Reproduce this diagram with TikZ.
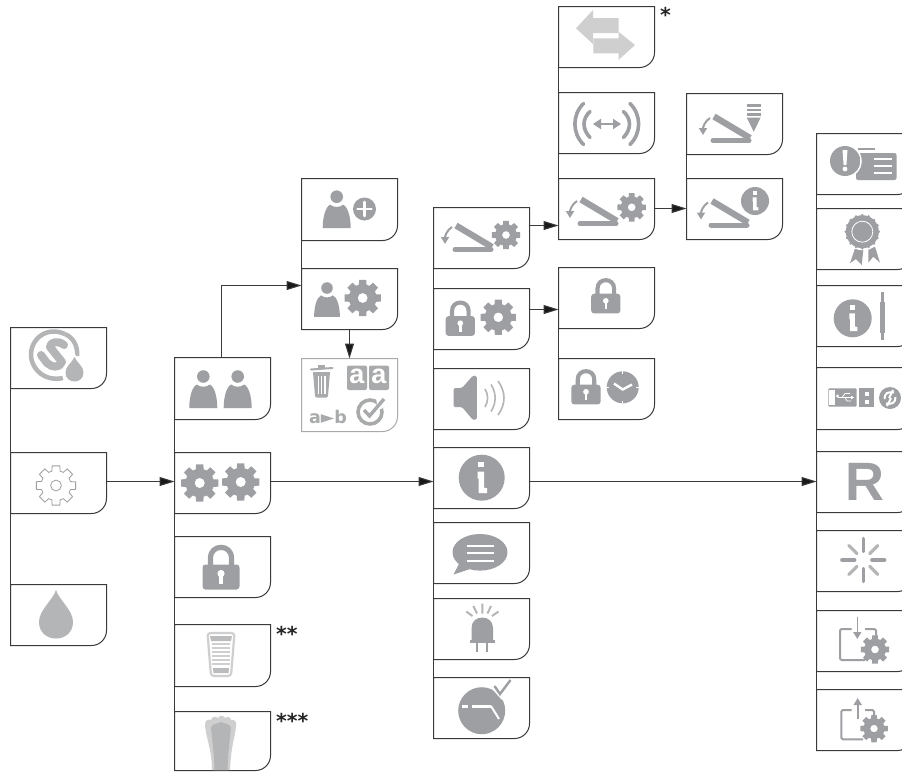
\documentclass[tikz,border=0pt]{standalone}
\usepackage{fontspec}
\setmainfont{Liberation Sans}
\newfontfamily\djfont{DejaVu Sans}
\usetikzlibrary{arrows.meta}
\definecolor{ic}{HTML}{9D9FA2}
\definecolor{icl}{HTML}{B4B5B6}
\definecolor{ice}{HTML}{CFCFD0}
\definecolor{ln}{HTML}{3A3A3C}
\definecolor{lg}{HTML}{A9AAAB}
\tikzset{
  boxnode/.style={inner sep=0pt,outer sep=0pt,minimum width=96pt},
  boxline/.style={draw=ln,line width=1pt},
  link/.style={draw=ln,line width=1pt},
  arrowlink/.style={link,-{Triangle[length=15pt,width=9pt,fill=black!90]}},
  star/.style={font=\djfont\bfseries\fontsize{20.5}{20.5}\selectfont,inner sep=0pt,anchor=north west,text=black!85}
}
% box: name, left, top, bottom, draw style
\newcommand\bx[5][boxline]{%
  \node[boxnode,minimum height={(#5-#4)*1pt}] (#2) at ({#3+48.5},{(#4+#5)/2+.5}) {};
  \draw[#1] (#2.north west) -- (#2.north east) [rounded corners=15pt] -- (#2.south east) [sharp corners] -- (#2.south west) -- cycle;
}
% gear: cx, cy, R, style
\newcommand\gear[4]{%
  \path[shift={(#1,#2)},scale=#3,even odd rule,#4]
    (-15:.75) \foreach \a in {0,45,...,315}{ -- (\a-11:1) -- (\a+11:1) -- (\a+16:.75) -- (\a+29:.75)} -- cycle
    (0,0) circle (.27);
}
% person: cx, head cy, scale
\newcommand\person[3]{%
  \begin{scope}[shift={(#1,#2)},scale=#3]
    \fill[ic] (0,0) circle (6.3);
    \fill[ic] (-14,31.5) .. controls (-14,20) and (-11,10) .. (-6.5,8) .. controls (-3,11) and (3,11) .. (6.5,8) .. controls (11,10) and (14,20) .. (14,31.5) -- cycle;
  \end{scope}}
% lock: cx, top, scale
\newcommand\lockicon[3]{%
  \begin{scope}[shift={(#1,#2)},scale=#3]
    \draw[draw=ic,line width=#3*5.2pt] (-10.5,20) -- (-10.5,13) .. controls (-10.5,-1.2) and (10.5,-1.2) .. (10.5,13) -- (10.5,20);
    \fill[ic,rounded corners=3pt] (-18.5,19.5) rectangle (18.5,44.5);
    \fill[white] (0,28.5) circle (3.6);
    \fill[white] (-1.6,29) rectangle (1.6,39);
  \end{scope}}
% tilt: vertex x,y
\newcommand\tilt[2]{%
  \begin{scope}[shift={(#1,#2)}]
    \draw[ic,line width=6.3pt] (-36,-22.5) -- (0,-1);
    \draw[ic,line width=5pt,line cap=round] (-37,1.5) -- (-1,1.5);
    \draw[ic,line width=2pt,-{Triangle[length=7pt,width=8pt]}] (-40,-21) .. controls (-45,-18) and (-47,-12) .. (-47,-4);
  \end{scope}}
% info: cx, cy, r
\newcommand\infoicon[3]{%
  \begin{scope}[shift={(#1,#2)},scale=#3/23]
    \fill[ic] (0,0) circle (23);
    \fill[white] (-3.5,-16) rectangle (2.5,-10.5);
    \fill[white] (-4,-6) -- (2.5,-6) -- (2.5,10) -- (5.5,10.5) -- (5.5,15.5) -- (-3,15.5) -- (-3,1) -- (-4,1) -- cycle;
  \end{scope}}
\begin{document}
\begin{tikzpicture}[x=1pt,y=-1pt]
\useasboundingbox (0,0) rectangle (902,772);
\clip (0,0) rectangle (902,772);
\fill[white] (0,0) rectangle (902,772);

% ---------- boxes ----------
\bx{logo}{10}{327}{388}
\bx{cfg}{10}{452}{513}
\bx{drop}{10}{584}{645}

\bx{users}{174}{357}{419}
\bx{sys}{174}{452}{513}
\bx{lock}{174}{536}{597}
\bx{filt}{174}{624}{686}
\bx{brush}{174}{711}{770}

\bx{uadd}{301}{178}{240}
\bx{ucfg}{301}{268}{329}
\bx[draw=lg,line width=1pt]{uopts}{301}{358}{431}

\bx{tiltc}{433}{207}{268}
\bx{lockc}{433}{288}{349}
\bx{sound}{433}{368}{429}
\bx{info}{433}{447}{508}
\bx{msg}{433}{522}{583}
\bx{led}{433}{598}{659}
\bx{sens}{433}{677}{738}

\bx{swap}{558}{6}{67}
\bx{wifi}{558}{92}{153}
\bx{tiltd}{558}{178}{239}
\bx{locka}{558}{267}{328}
\bx{lockt}{558}{358}{419}

\bx{tiltp}{686}{93}{154}
\bx{tilti}{686}{178}{239}

\bx{alert}{816}{133}{194}
\bx{cert}{816}{208}{269}
\bx{ijack}{816}{285}{346}
\bx{usb}{816}{367}{429}
\bx{reset}{816}{451}{512}
\bx{burst}{816}{530}{591}
\bx{imp}{816}{610}{671}
\bx{exp}{816}{689}{750}

% ---------- connectors ----------
\draw[link] (logo.south west) -- (cfg.north west);
\draw[link] (cfg.south west) -- (drop.north west);
\draw[link] (users.south west) -- (sys.north west);
\draw[link] (sys.south west) -- (lock.north west);
\draw[link] (lock.south west) -- (filt.north west);
\draw[link] (filt.south west) -- (brush.north west);
\draw[link] (uadd.south west) -- (ucfg.north west);
\draw[link] (tiltc.south west) -- (lockc.north west);
\draw[link] (lockc.south west) -- (sound.north west);
\draw[link] (sound.south west) -- (info.north west);
\draw[link] (info.south west) -- (msg.north west);
\draw[link] (msg.south west) -- (led.north west);
\draw[link] (led.south west) -- (sens.north west);
\draw[link] (swap.south west) -- (wifi.north west);
\draw[link] (wifi.south west) -- (tiltd.north west);
\draw[link] (locka.south west) -- (lockt.north west);
\draw[link] (tiltp.south west) -- (tilti.north west);
\draw[link] (alert.south west) -- (cert.north west);
\draw[link] (cert.south west) -- (ijack.north west);
\draw[link] (ijack.south west) -- (usb.north west);
\draw[link] (usb.south west) -- (reset.north west);
\draw[link] (reset.south west) -- (burst.north west);
\draw[link] (burst.south west) -- (imp.north west);
\draw[link] (imp.south west) -- (exp.north west);

\draw[arrowlink] ([yshift=1.5pt]cfg.east) -- ([yshift=1.5pt]sys.west);
\draw[arrowlink] ([yshift=1.5pt]sys.east) -- ([yshift=-3.5pt]info.west);
\draw[arrowlink] ([yshift=-3.5pt]info.east) -- ([yshift=.5pt]reset.west);
\draw[arrowlink] ([xshift=-1pt]users.north) |- ([yshift=13.5pt]ucfg.west);
\draw[arrowlink] (ucfg.south) -- (uopts.north);
\draw[arrowlink] ([yshift=12.5pt]tiltc.east) -- ([yshift=-16.5pt]tiltd.west);
\draw[arrowlink] ([yshift=9.5pt]lockc.east) -- ([yshift=-11.5pt]locka.west);
\draw[arrowlink] ([yshift=.5pt]tiltd.east) -- ([yshift=.5pt]tilti.west);

% ---------- stars ----------
\node[star] (st1) at (660,7.5) {*};
\node[star] (st2) at (276,626) {**};
\node[star] (st3) at (276,713) {***};

% ---------- icons, column 1 ----------
\begin{scope}
  \draw[icl,line width=4.5pt] (65,334) .. controls (42,324) and (25,346) .. (33,364) .. controls (38,375) and (50,381) .. (63,378);
  \draw[icl,line width=4.5pt] (65,334) .. controls (74,338) and (78,347) .. (77,356);
  \draw[icl,line width=8pt,line cap=round,line join=round] (64,345) .. controls (58,340) and (50,342) .. (50,347) -- (62,362) .. controls (60,368) and (52,368) .. (47,363) -- (41,355);
  \fill[white] (74.5,353) .. controls (72,360) and (62,364) .. (62,373) .. controls (62,388) and (87,388) .. (87,373) .. controls (87,364) and (77,360) .. (74.5,353) -- cycle;
  \fill[icl] (74.5,357) .. controls (72,363) and (65.5,366) .. (65.5,372.5) .. controls (65.5,384.5) and (83.5,384.5) .. (83.5,372.5) .. controls (83.5,366) and (77,363) .. (74.5,357) -- cycle;
\end{scope}
\gear{56}{485.5}{20}{draw=ic,line width=.8pt,fill=white}
\fill[icl] (56,590) .. controls (53,600) and (39,610) .. (39,622) .. controls (39,644) and (73,644) .. (73,622) .. controls (73,610) and (59,600) .. (56,590) -- cycle;

% ---------- column 2 ----------
\person{203.3}{376.5}{1}
\person{237.7}{376.5}{1}
\gear{199.7}{483}{19}{fill=ic}
\gear{240.7}{482}{19}{fill=ic}
\lockicon{221}{545}{1}
% filter
\begin{scope}
  \draw[ice,line width=2.2pt,rounded corners=3pt] (207.5,633) -- (234.5,633) -- (231,676) -- (211,676) -- cycle;
  \fill[icl!90] (210,636) -- (232,636) -- (231,641) -- (211,641) -- cycle;
  \fill[icl!90] (213,668) -- (229,668) -- (228.5,673) -- (213.5,673) -- cycle;
  \foreach \yy in {644,648,652,656,660,664} \draw[ice,line width=1.6pt] (212,\yy) -- (230,\yy);
\end{scope}
% brush
\begin{scope}
  \fill[ice] (205,725) .. controls (205,720) and (208,719) .. (211,720) .. controls (212,716) and (216,716) .. (218,718) .. controls (220,715) and (223,715) .. (225,718) .. controls (227,716) and (231,717) .. (231,720) .. controls (234,719) and (237,721) .. (236,726) .. controls (235,738) and (231,745) .. (230,770) -- (212,770) .. controls (212,750) and (206,738) .. (205,725) -- cycle;
  \fill[icl] (211,727) .. controls (214,723) and (218,724) .. (221,722) .. controls (225,724) and (228,723) .. (231,727) .. controls (230,740) and (228,750) .. (227.5,770) -- (214.5,770) .. controls (214,750) and (212,740) .. (211,727) -- cycle;
\end{scope}

% ---------- user sub-column ----------
\person{336.7}{196.7}{1}
\fill[ic] (364.5,209) circle (11.5);
\draw[white,line width=2.6pt,line cap=round] (357.5,209) -- (371.5,209) (364.5,202) -- (364.5,216);
\person{327}{288}{.92}
\gear{362.7}{298}{18.5}{fill=ic}
% option icons
\begin{scope}
  \fill[lg] (318,365) rectangle (325,368);
  \draw[lg,line width=2pt,line cap=round] (311,369.5) -- (332.5,368);
  \fill[lg] (313,372) -- (330,372) -- (328,396) .. controls (328,397) and (327,397.5) .. (326,397.5) -- (317,397.5) .. controls (316,397.5) and (315,397) .. (315,396) -- cycle;
  \foreach \xx in {318.3,321.7,325} \draw[white,line width=1.2pt] (\xx,376) -- (\xx,393.5);
  \fill[lg,rounded corners=2pt] (347,365.5) rectangle (367,390);
  \fill[lg,rounded corners=2pt] (369,365.5) rectangle (389,390);
  \node[inner sep=0pt,text=white,font=\bfseries\fontsize{27}{27}\selectfont] (aa1) at (357,376.5) {a};
  \node[inner sep=0pt,text=white,font=\bfseries\fontsize{27}{27}\selectfont] (aa2) at (379,376.5) {a};
  \node[inner sep=0pt,text=lg,font=\djfont\bfseries\fontsize{17.5}{17.5}\selectfont] (ab) at (328,417) {a►b};
  \draw[lg,line width=3.6pt] (370,412) circle (12);
  \fill[white] (376,398) -- (388,398) -- (388,406) -- (378,410) -- cycle;
  \draw[lg,line width=3.4pt,line join=miter] (364,410) -- (369.5,416) -- (384,399);
\end{scope}

% ---------- column 3 ----------
\tilt{492}{248}
\gear{506}{235}{14.5}{fill=ic}
\lockicon{460.3}{300.7}{.79}
\gear{498.3}{317.3}{18}{fill=ic}
% speaker
\fill[ic,rounded corners=1.5pt] (453.5,388) -- (462,388) -- (473,375.5) -- (476.8,376) -- (476.8,419.5) -- (473,420) -- (462,407) -- (453.5,407) -- cycle;
\draw[icl,line width=1.6pt] (485,389) .. controls (488.5,395) and (488.5,401) .. (485,407);
\draw[icl,line width=1.6pt] (491,384.5) .. controls (496.5,393) and (496.5,403) .. (491,411.5);
\draw[icl,line width=1.6pt] (498,381) .. controls (506,392) and (506,404) .. (498,415);
\infoicon{481.7}{477.7}{23}
% bubble
\fill[ic] (480,552.3) ellipse (27.5 and 18.3);
\fill[ic] (460,562) -- (453.5,574.5) -- (473,568) -- cycle;
\draw[white,line width=2pt] (466.5,545.5) -- (493.5,545.5) (466.5,553) -- (493.5,553) (466.5,560.5) -- (493.5,560.5);
% led
\fill[ic] (471.5,640) -- (471.5,628) .. controls (471.5,614) and (493,614) .. (493,628) -- (493,640) -- cycle;
\fill[ic] (470,640) rectangle (495,642.5);
\draw[ic,line width=1.7pt] (477.3,642) -- (477.3,652) (487,642) -- (487,652);
\draw[icl,line width=2pt] (482.3,603.5) -- (482.3,613.5) (473.3,606) -- (477,613.5) (466.3,611.5) -- (472.5,616) (491,606) -- (487.5,613.5) (498.5,611.5) -- (492,616);
% sensor
\fill[ic] (481.7,710.7) circle (23.5);
\fill[white] (498,682) -- (510,682) -- (510,695) -- (502,700) -- (493,690) -- cycle;
\draw[ic,line width=2.4pt] (494.5,686) -- (500,694) -- (510.5,680);
\draw[white,line width=3pt] (462,706) -- (468,706) (472,706) -- (491,706);
\draw[white,line width=2pt] (491,706) -- (499,719);

% ---------- column 4 ----------
\begin{scope}
  \fill[ice] (576,28.3) -- (593,10) -- (593,18) -- (618.5,18) -- (618.5,33) -- (593,33) -- (593,44) -- cycle;
  \fill[ice] (635,45) -- (618.5,31.7) -- (618.5,38.3) -- (593.3,38.3) -- (593.3,53.3) -- (618.5,53.3) -- (618.5,60) -- cycle;
  \fill[white] (595,33.5) rectangle (617,36.7);
\end{scope}
\draw[ic,line width=3.6pt,line cap=round] (583.5,103.5) .. controls (572,115) and (572,133) .. (583.5,144.5);
\draw[ic,line width=3.6pt,line cap=round] (590,111.5) .. controls (582,119) and (582,129) .. (590,137.5);
\draw[ic,line width=3.6pt,line cap=round] (630,103.5) .. controls (641.5,115) and (641.5,133) .. (630,144.5);
\draw[ic,line width=3.6pt,line cap=round] (623.5,111.5) .. controls (631.5,119) and (631.5,129) .. (623.5,137.5);
\draw[ic,line width=2.6pt,{Triangle[length=8pt,width=10pt]}-{Triangle[length=8pt,width=10pt]}] (593,124) -- (621,124);
\tilt{617}{222}
\gear{631.7}{207.3}{14.5}{fill=ic}
\lockicon{605.8}{278.3}{.79}
\lockicon{586}{369.3}{.79}
\fill[ic] (622.7,387.3) circle (16);
\foreach \a in {0,90,180,270} \draw[white,line width=1.4pt,shift={(622.7,387.3)}] (\a:13.5) -- (\a:17);
\draw[white,line width=2.4pt] (614,383.5) -- (622.7,389.5) -- (632,384.5);

% ---------- column 5 ----------
\tilt{750}{139}
\fill[ic] (746.7,104) rectangle (760.7,106.5);
\fill[ic] (746.7,108.5) rectangle (760.7,111);
\fill[ic] (746.7,113) rectangle (760.7,115.5);
\fill[ic] (746.7,117.5) -- (760.7,117.5) -- (753.7,131.7) -- cycle;
\tilt{748}{223.5}
\infoicon{755}{201}{14}

% ---------- column 6 ----------
\begin{scope}
  \fill[ic] (858,148) rectangle (875,150);
  \fill[ic,rounded corners=2pt] (856,153) rectangle (896.5,180);
  \draw[white,line width=1.5pt] (845,161) circle (16);
  \fill[ic] (845,161) circle (15);
  \fill[white] (842.5,150) -- (847.5,150) -- (846.4,165) -- (843.6,165) -- cycle;
  \fill[white] (845,169) circle (2.4);
  \draw[white,line width=1.8pt] (874,159) -- (891.7,159) (874,166) -- (891.7,166) (874,173) -- (891.7,173);
\end{scope}
\begin{scope}
  \fill[ic] (855,248.3) -- (850,263.3) -- (856,259) -- (861.7,265) -- (863.3,250) -- cycle;
  \fill[ic] (868.3,250) -- (868.3,262.7) -- (873.3,256.7) -- (880,262.7) -- (875,246.7) -- cycle;
  \fill[white] (862.3,231.7) circle (18.5);
  \fill[ic] (862.3,231.7) circle (16.5);
  \foreach \a in {0,22.5,...,337.5} \fill[ic,shift={(862.3,231.7)}] (\a:16.5) circle (1.4);
  \draw[white,line width=.8pt] (862.3,231.7) circle (10.5);
\end{scope}
\infoicon{852.7}{318.3}{19}
\fill[ic] (881.3,291.7) rectangle (884.1,302);
\fill[ic] (880,302) rectangle (885.4,333);
\fill[ic] (881.3,333) rectangle (884.1,340);
% usb
\begin{scope}
  \fill[ic,rounded corners=1pt] (828.3,388.3) rectangle (856.7,406.7);
  \fill[white] (829,390) rectangle (835,405.3);
  \draw[white,line width=1pt,-{Triangle[length=3pt,width=3.5pt]}] (838,397.5) -- (854,397.5);
  \draw[white,line width=.8pt] (842,397.5) -- (845,393.5) -- (850,393.5) (845,397.5) -- (847,401) -- (851,401);
  \fill[white] (837.5,396) circle (1.6);
  \fill[ic] (859.3,388.3) rectangle (874,406.7);
  \fill[white] (865,391.5) rectangle (868.5,395.5);
  \fill[white] (865,399.5) rectangle (868.5,403.5);
  \fill[ic] (890,398) circle (11);
  \draw[white,line width=2pt] (884.5,399) .. controls (884.5,393) and (888,391.5) .. (894,392.5) (895.5,397) .. controls (895.5,403) and (892,404.5) .. (886,403.5);
  \draw[white,line width=2pt] (893,390) -- (889,398) (887,406) -- (891,398);
\end{scope}
\node[inner sep=0pt,text=ic,font=\bfseries\fontsize{54}{54}\selectfont] (rlabel) at (865,481.5) {R};
\foreach \a in {0,90,180,270} \draw[ic,line width=3.2pt,line cap=round,shift={(863.3,560)}] (\a:8.5) -- (\a:21.5);
\foreach \a in {45,135,225,315} \draw[icl,line width=3.2pt,line cap=round,shift={(863.3,560)}] (\a:9) -- (\a:20.5);
% import
\draw[ic,line width=2pt,line join=round,rounded corners=1.5pt] (851.7,629) -- (840,629) -- (840,660) -- (865,660);
\draw[ic,line width=2pt,rounded corners=1.5pt] (865,629) -- (876,629) -- (876,636);
\draw[ic,line width=1.6pt,-{Triangle[length=7pt,width=8pt]}] (857.3,616.5) -- (857.3,639);
\gear{875}{649.5}{14.5}{fill=ic}
% export
\draw[ic,line width=2pt,line join=round,rounded corners=1.5pt] (851.7,710) -- (841.3,710) -- (841.3,739.3) -- (863,739.3);
\draw[ic,line width=2pt,rounded corners=1.5pt] (865,710) -- (874,710) -- (874,716);
\draw[ic,line width=1.6pt,-{Triangle[length=7pt,width=8pt]}] (857.7,719) -- (857.7,698);
\gear{874}{728.5}{14}{fill=ic}
\end{tikzpicture}
\end{document}
